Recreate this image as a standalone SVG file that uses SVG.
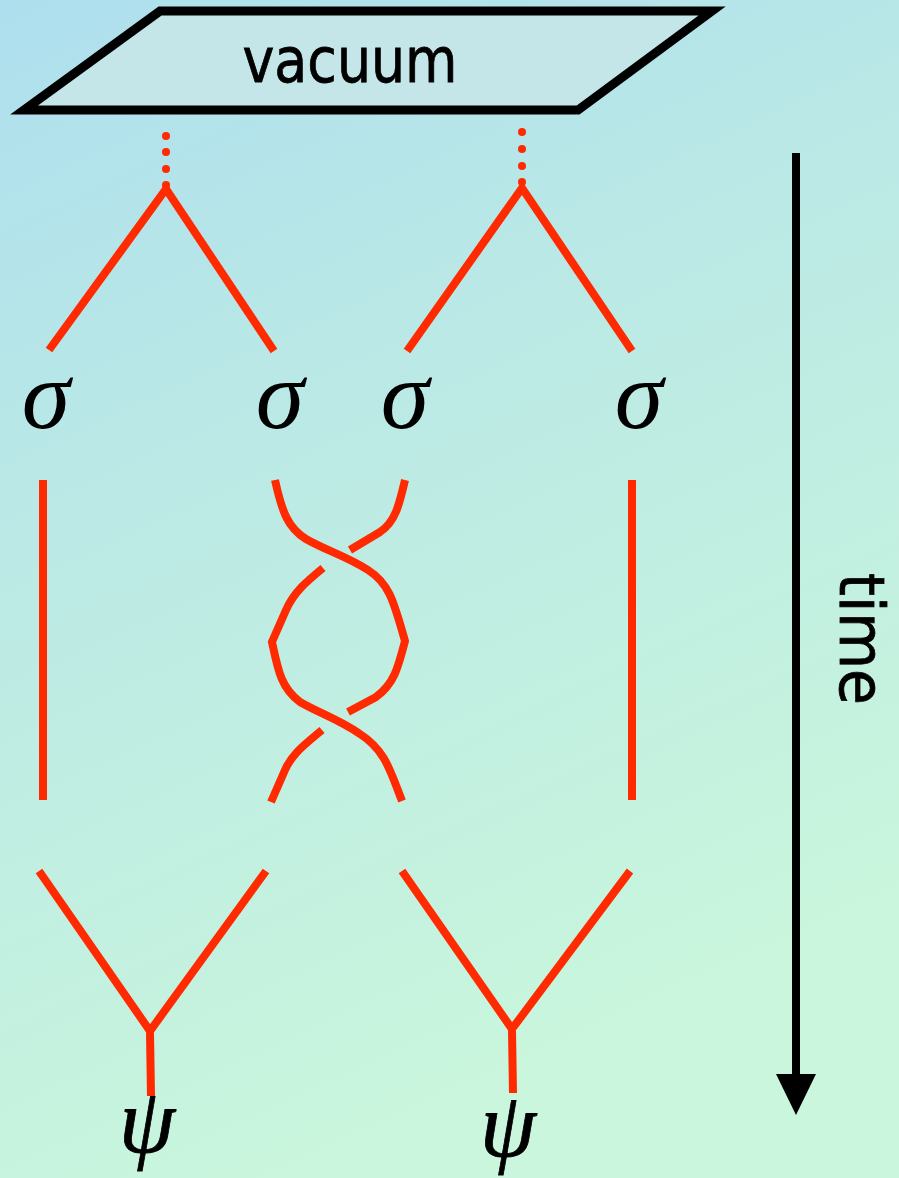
<svg xmlns="http://www.w3.org/2000/svg" width="899" height="1178" viewBox="0 0 899 1178">
  <defs>
    <linearGradient id="bg" x1="0" y1="0" x2="0.35" y2="1">
      <stop offset="0" stop-color="#aedfee"/>
      <stop offset="0.5" stop-color="#bdebe4"/>
      <stop offset="1" stop-color="#c9f6dc"/>
    </linearGradient>
    <style>
      .strand { fill: none; stroke: #ff2a00; stroke-width: 8; stroke-linecap: butt; stroke-linejoin: miter; }
      .dot { fill: #ff2a00; }
      .greek { font-family: "Liberation Serif", "Times New Roman", serif; font-style: italic; fill: #000; text-anchor: middle; }
      .sig { font-size: 98px; }
      .psi { font-size: 90px; stroke: #000; stroke-width: 0.8; }
      .hand { font-family: "DejaVu Sans", "Liberation Sans", sans-serif; font-size: 62px; fill: #000; stroke: #000; stroke-width: 0.8; }
    </style>
  </defs>
  <rect x="0" y="0" width="899" height="1178" fill="url(#bg)"/>

  <g id="vacuum">
    <polygon points="160,11 712,11 578,110 24,110" fill="#c4e6e8" stroke="#000" stroke-width="9" stroke-linejoin="miter"/>
    <text class="hand" x="350" y="82" text-anchor="middle" textLength="215" lengthAdjust="spacingAndGlyphs">vacuum</text>
  </g>

  <g id="connectors">
    <circle class="dot" cx="166" cy="136" r="4"/>
    <circle class="dot" cx="166" cy="152" r="4"/>
    <circle class="dot" cx="166" cy="169" r="4"/>
    <circle class="dot" cx="166" cy="185" r="4"/>
    <circle class="dot" cx="522" cy="132" r="4"/>
    <circle class="dot" cx="522" cy="149" r="4"/>
    <circle class="dot" cx="522" cy="166" r="4"/>
    <circle class="dot" cx="522" cy="182" r="4"/>

    <polyline class="strand" points="49,350 166,189 274,351"/>
    <polyline class="strand" points="407,351 522,188 632,351"/>

    <line class="strand" x1="43" y1="480" x2="43" y2="800"/>
    <line class="strand" x1="632" y1="480" x2="632" y2="800"/>

    <path class="strand" d="M275,480 C282,512 288,528 306,539 C325,550 346,556 368,570 C390,584 394,603 405,641 C398,668 394,684 376,697 L348,712"/>
    <path class="strand" d="M405,480 C399,506 395,522 380,532 L350,550"/>
    <path class="strand" d="M323,568 C306,582 294,592 286,610 L272,642 C278,670 281,688 300,702 C319,713 340,720 360,734 C385,750 390,770 402,801"/>
    <path class="strand" d="M322,730 C303,746 292,754 285,770 L271,802"/>

    <polyline class="strand" points="39,871 150,1031 266,871"/>
    <line class="strand" x1="150" y1="1033" x2="151" y2="1096"/>
    <polyline class="strand" points="402,871 512,1029 630,871"/>
    <line class="strand" x1="512" y1="1031" x2="513" y2="1093"/>
  </g>

  <g id="sigma1"><text class="greek sig" x="46" y="428">σ</text></g>
  <g id="sigma2"><text class="greek sig" x="280" y="428">σ</text></g>
  <g id="sigma3"><text class="greek sig" x="405" y="428">σ</text></g>
  <g id="sigma4"><text class="greek sig" x="639" y="428">σ</text></g>

  <g id="psi1"><text class="greek psi" x="147" y="1152">ψ</text></g>
  <g id="psi2"><text class="greek psi" x="508" y="1156">ψ</text></g>

  <g id="time-axis">
    <line x1="796" y1="153" x2="796" y2="1076" stroke="#000" stroke-width="8"/>
    <polygon points="776,1074 816,1074 796,1115" fill="#000"/>
    <text class="hand" transform="translate(840,573) rotate(90)" x="0" y="0" textLength="132" lengthAdjust="spacingAndGlyphs">time</text>
  </g>
</svg>
